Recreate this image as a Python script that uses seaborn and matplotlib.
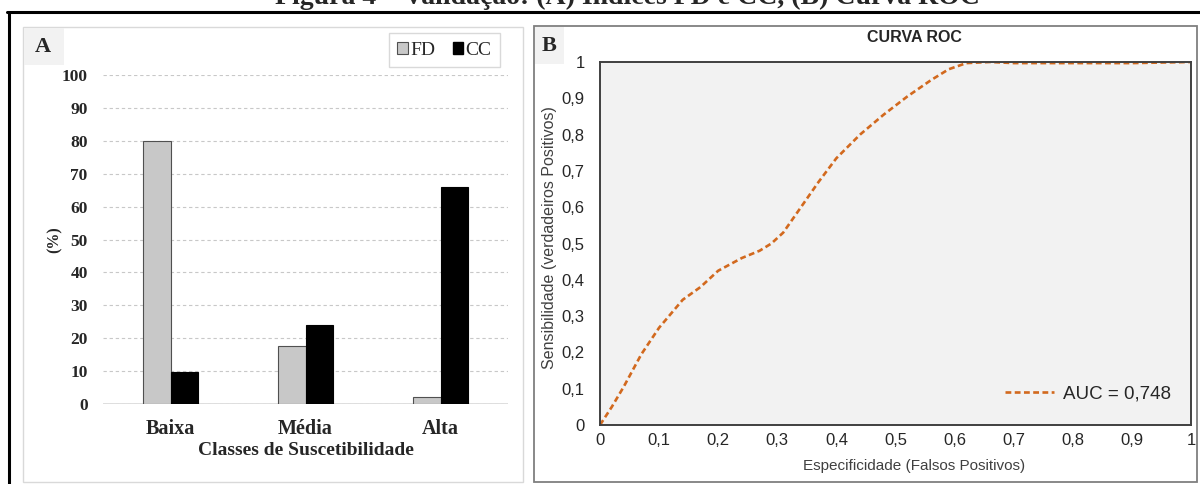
import numpy as np
import pandas as pd
import matplotlib
matplotlib.use("Agg")
import matplotlib.pyplot as plt
from matplotlib.patches import Rectangle, Patch
from matplotlib.lines import Line2D
import seaborn as sns

# panel A data
classes = ["Baixa", "Média", "Alta"]
fd_values = [80.0, 17.6, 2.2]
cc_values = [9.7, 24.0, 66.0]
yticks_a = [0, 10, 20, 30, 40, 50, 60, 70, 80, 90, 100]

# panel B data (ROC curve)
fpr = [0, 0.02, 0.04, 0.07, 0.10, 0.14, 0.17, 0.20, 0.24, 0.27, 0.29, 0.31,
       0.34, 0.37, 0.40, 0.44, 0.48, 0.52, 0.56, 0.59, 0.62, 0.66, 0.70,
       0.80, 0.90, 1.00]
tpr = [0, 0.05, 0.105, 0.195, 0.268, 0.345, 0.38, 0.425, 0.46, 0.48, 0.50,
       0.53, 0.60, 0.67, 0.735, 0.80, 0.855, 0.905, 0.95, 0.98, 0.997, 1.0,
       0.997, 0.997, 0.997, 1.0]
roc_ticks = [0, 0.1, 0.2, 0.3, 0.4, 0.5, 0.6, 0.7, 0.8, 0.9, 1.0]
roc_labels = ["0", "0,1", "0,2", "0,3", "0,4", "0,5", "0,6", "0,7", "0,8", "0,9", "1"]
auc_label = "AUC = 0,748"

sns.set_theme(style="white")
plt.rcParams["font.family"] = ["Liberation Sans", "DejaVu Sans"]
SERIF = ["Liberation Serif", "DejaVu Serif"]

W, H = 1200, 484
fig = plt.figure(figsize=(W / 100, H / 100), dpi=100)


def px_axes(l, t, r, b, **kw):
    return fig.add_axes([l / W, 1 - b / H, (r - l) / W, (b - t) / H], **kw)


# background decorations (frames, panel letters, cropped caption)
bg = fig.add_axes([0, 0, 1, 1], zorder=0)
bg.set_xlim(0, W)
bg.set_ylim(H, 0)
bg.axis("off")
bg.add_patch(Rectangle((23, 27), 500, 455, fill=False, ec="#d9d9d9", lw=1.0))
bg.add_patch(Rectangle((23.5, 27.5), 40, 37, fc="#f2f2f2", ec="none"))
bg.text(43, 47, "A", fontsize=16, fontweight="bold", family=SERIF,
        ha="center", va="center")
bg.add_patch(Rectangle((534, 26), 663, 456, fill=False, ec="#7f7f7f", lw=1.3))
bg.add_patch(Rectangle((535, 27), 29, 37, fc="#f2f2f2", ec="none"))
bg.text(549.5, 46, "B", fontsize=16, fontweight="bold", family=SERIF,
        ha="center", va="center")
bg.add_line(Line2D([7, W], [12, 12], color="black", lw=2.2))
bg.add_line(Line2D([8.5, 8.5], [12, H], color="black", lw=2.2))
# caption of the source figure, cropped at the top edge as in the picture
fig.text(627 / W, 1 - 3.5 / H, "Figura 4 – Validação: (A) Índices FD e CC, (B) Curva ROC",
         fontsize=20, fontweight="bold", family=SERIF, ha="center", va="baseline")

# ---- panel A: bar chart ----
df = pd.DataFrame({
    "classe": classes * 2,
    "valor": fd_values + cc_values,
    "indice": ["FD"] * len(classes) + ["CC"] * len(classes),
})
axA = px_axes(103, 75, 508, 404, zorder=1)
axA.patch.set_alpha(0)
sns.barplot(data=df, x="classe", y="valor", hue="indice", order=classes,
            hue_order=["FD", "CC"], palette={"FD": "#c8c8c8", "CC": "#000000"},
            width=0.41, edgecolor="#505050", linewidth=0.8, ax=axA, legend=False,
            zorder=3)
for bar in axA.patches[len(classes):]:
    bar.set_edgecolor("black")
axA.set_xlim(-0.5, 2.5)
axA.set_ylim(0, 100)
axA.set_yticks(yticks_a)
axA.yaxis.grid(True, color="#c8c8c8", lw=0.8, linestyle=(0, (3, 2.5)))
axA.xaxis.grid(False)
axA.axhline(0, color="#d9d9d9", lw=1.2, zorder=2)
for s in axA.spines.values():
    s.set_visible(False)
axA.tick_params(axis="both", length=0)
axA.tick_params(axis="y", pad=11)
axA.tick_params(axis="x", pad=11)
for lab in axA.get_yticklabels():
    lab.set_fontfamily(SERIF)
    lab.set_fontweight("bold")
    lab.set_fontsize(12.5)
for lab in axA.get_xticklabels():
    lab.set_fontfamily(SERIF)
    lab.set_fontweight("bold")
    lab.set_fontsize(14.5)
axA.set_xlabel("Classes de Suscetibilidade", fontsize=14, fontweight="bold",
               family=SERIF)
axA.xaxis.set_label_coords(0.5, -0.115)
axA.set_ylabel("(%)", fontsize=11.5, fontweight="bold", family=SERIF)
axA.yaxis.set_label_coords(-0.099, 0.5)
handles = [Patch(fc="#c8c8c8", ec="#505050", lw=0.8, label="FD"),
           Patch(fc="black", ec="black", label="CC")]
axA.legend(handles=handles, ncol=2, loc="upper right",
           bbox_to_anchor=(500 / W, 1 - 33 / H), bbox_transform=fig.transFigure,
           borderaxespad=0, prop={"family": SERIF, "size": 14},
           frameon=True, fancybox=False, edgecolor="#d9d9d9", framealpha=1,
           handlelength=0.55, handleheight=0.55, handletextpad=0.1,
           columnspacing=0.9, borderpad=0.45)

# ---- panel B: ROC curve ----
roc = pd.DataFrame({"fpr": fpr, "tpr": tpr})
axB = px_axes(600, 62, 1191, 425, zorder=1)
axB.set_facecolor("#f2f2f2")
sns.lineplot(data=roc, x="fpr", y="tpr", estimator=None, sort=False,
             color="#d2691e", lw=1.9, linestyle=(0, (2.2, 1.3)),
             label=auc_label, ax=axB)
axB.set_xlim(0, 1)
axB.set_ylim(0, 1)
axB.set_xticks(roc_ticks)
axB.set_xticklabels(roc_labels)
axB.set_yticks(roc_ticks)
axB.set_yticklabels(roc_labels)
axB.tick_params(axis="both", length=0, labelsize=12, labelcolor="#262626")
axB.tick_params(axis="y", pad=11)
axB.tick_params(axis="x", pad=6)
for s in axB.spines.values():
    s.set_visible(True)
    s.set_color("#404040")
    s.set_linewidth(1.4)
axB.grid(False)
axB.set_xlabel("Especificidade (Falsos Positivos)", fontsize=11, color="#404040")
axB.xaxis.set_label_coords(0.531, -0.094)
axB.set_ylabel("Sensibilidade (verdadeiros Positivos)", fontsize=11.5, color="#404040")
axB.yaxis.set_label_coords(-0.073, 0.515)
axB.legend(loc="lower right", bbox_to_anchor=(0.995, 0.015), frameon=False,
           fontsize=13.5, handlelength=2.6, handletextpad=0.5, labelcolor="#262626")
fig.text(914 / W, 1 - 38 / H, "CURVA ROC", fontsize=11.5, fontweight="bold",
         ha="center", va="center", color="#262626")

fig.savefig("out.png", dpi=100)
